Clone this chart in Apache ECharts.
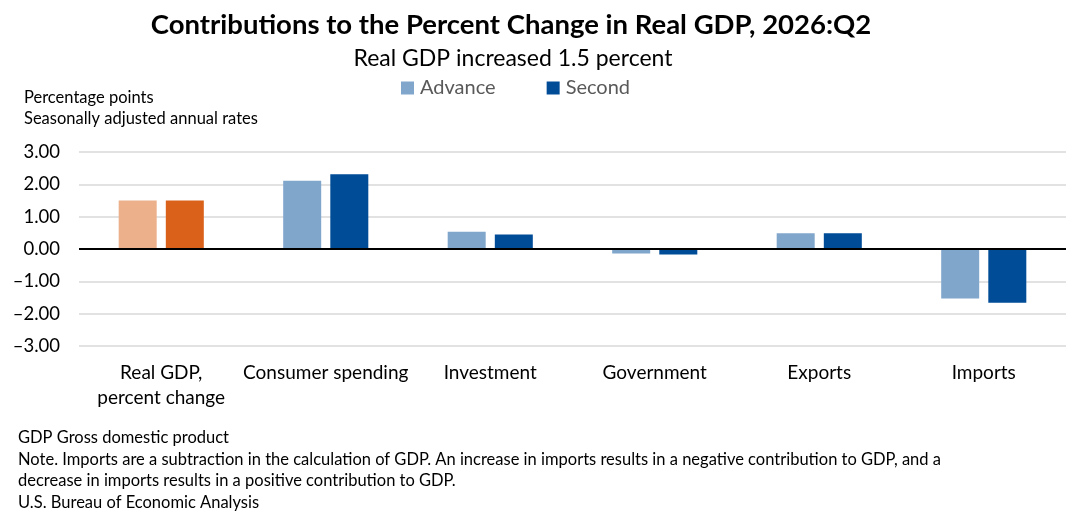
<!DOCTYPE html>
<html>
<head>
<meta charset="utf-8">
<script src="https://cdn.jsdelivr.net/npm/echarts@6/dist/echarts.min.js"></script>
<style>
  html, body { margin: 0; padding: 0; background: #fff; }
  #chart { width: 1080px; height: 521px; }
</style>
</head>
<body>
<div id="chart"></div>
<script>
// values
const categories = ["Real GDP,\npercent change", "Consumer spending", "Investment", "Government", "Exports", "Imports"];
const advance = [1.50, 2.11, 0.53, -0.14, 0.49, -1.53];
const second = [1.50, 2.31, 0.45, -0.17, 0.49, -1.66];
const yTicks = [-3, -2, -1, 0, 1, 2, 3];
const notes = [
  "GDP Gross domestic product",
  "Note. Imports are a subtraction in the calculation of GDP. An increase in imports results in a negative contribution to GDP, and a",
  "decrease in imports results in a positive contribution to GDP.",
  "U.S. Bureau of Economic Analysis"
];

const FONT = "Lato";
const advColor = "#80A6CC", secColor = "#004C97";
const advGdp = "#ECB08B", secGdp = "#D9611A";

const chart = echarts.init(document.getElementById("chart"));

function fmt(v) {
  const s = Math.abs(v).toFixed(2);
  return v < 0 ? "\u2013" + s : s;
}

const option = {
  backgroundColor: "#fff",
  textStyle: { fontFamily: FONT },
  title: [
    {
      text: "Contributions to the Percent Change in Real GDP, 2026:Q2",
      left: 506, top: 6, textAlign: "center",
      textStyle: { fontFamily: FONT, fontWeight: "bold", fontSize: 27.5, color: "#000" }
    },
    {
      text: "Real GDP increased 1.5 percent",
      left: 508, top: 42, textAlign: "center",
      textStyle: { fontFamily: FONT, fontWeight: "normal", fontSize: 23, color: "#000" }
    }
  ],
  legend: {
    top: 78, left: 401, padding: 0,
    itemWidth: 13, itemHeight: 13, itemGap: 51,
    icon: "rect",
    textStyle: { fontFamily: FONT, fontSize: 20, color: "#595959", padding: [0, 0, 0, 1] },
    data: ["Advance", "Second"]
  },
  grid: { left: 79, right: 14, top: 152, bottom: 175, containLabel: false },
  xAxis: {
    type: "category",
    data: categories,
    axisLine: { show: false, onZero: false },
    axisTick: { show: false },
    axisLabel: { fontFamily: FONT, fontSize: 19, color: "#000", margin: 14, lineHeight: 25, interval: 0 }
  },
  yAxis: {
    type: "value",
    min: yTicks[0], max: yTicks[yTicks.length - 1], interval: 1,
    axisLine: { show: false },
    axisTick: { show: false },
    splitLine: { lineStyle: { color: "#D9D9D9", width: 1.5 } },
    axisLabel: { fontFamily: FONT, fontSize: 18.5, color: "#000", margin: 19, formatter: fmt }
  },
  series: [
    {
      name: "Advance", type: "bar",
      itemStyle: { color: advColor },
      data: advance.map((v, i) => i === 0 ? { value: v, itemStyle: { color: advGdp } } : v),
      barWidth: 38, barGap: "24%",
      markLine: {
        silent: true, symbol: "none", label: { show: false },
        lineStyle: { color: "#000", width: 2, type: "solid" },
        data: [{ yAxis: 0 }]
      }
    },
    {
      name: "Second", type: "bar",
      itemStyle: { color: secColor },
      data: second.map((v, i) => i === 0 ? { value: v, itemStyle: { color: secGdp } } : v),
      barWidth: 38, barGap: "24%"
    }
  ],
  graphic: [
    { type: "text", left: 24, top: 89, style: { text: "Percentage points", font: "16.5px " + FONT, fill: "#000" } },
    { type: "text", left: 24, top: 110, style: { text: "Seasonally adjusted annual rates", font: "16.5px " + FONT, fill: "#000" } }
  ].concat(notes.map((t, i) => ({
    type: "text", left: 18, top: 429 + i * 21.7,
    style: { text: t, font: "16.5px " + FONT, fill: "#000" }
  })))
};

chart.setOption(option);
</script>
</body>
</html>
